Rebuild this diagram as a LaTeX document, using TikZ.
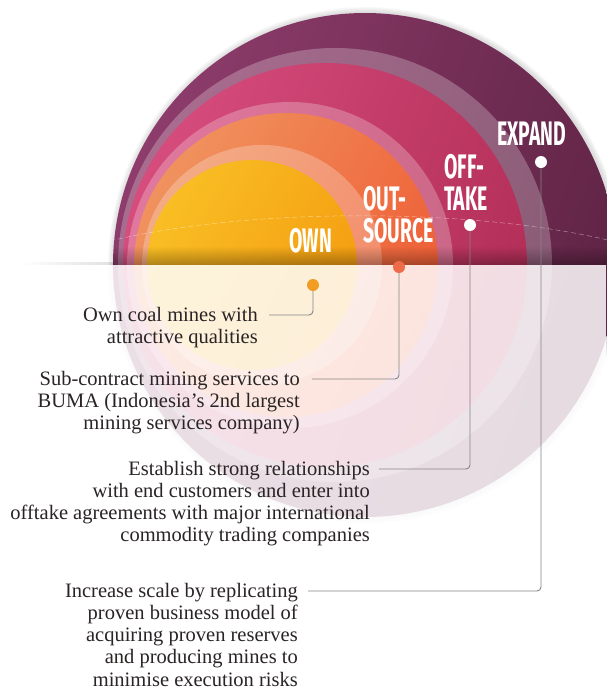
\documentclass[tikz,border=0pt]{standalone}
\usepackage{fontspec}
\setmainfont{Liberation Serif}
\newfontfamily\stagefont[FakeStretch=0.57]{Fira Sans}
\usetikzlibrary{fadings}

\definecolor{plumL}{HTML}{8D3C6B}
\definecolor{plumR}{HTML}{5E2344}
\definecolor{roseL}{HTML}{D64C7D}
\definecolor{roseR}{HTML}{B22E57}
\definecolor{coralL}{HTML}{F0925E}
\definecolor{coralR}{HTML}{EE5C34}
\definecolor{sunL}{HTML}{F9BE24}
\definecolor{sunR}{HTML}{F49C10}
\definecolor{owndot}{HTML}{F39C22}
\definecolor{sourcedot}{HTML}{EF6C48}
\definecolor{linegray}{HTML}{858585}
\definecolor{textgray}{HTML}{2A2425}

\tikzset{
  stage/.style={text=white, font=\stagefont\bfseries\fontsize{34}{32}\selectfont,
    inner sep=0pt, anchor=base west},
  blurb/.style={text=textgray, font=\fontsize{20.5}{22.2}\selectfont,
    inner sep=0pt, align=right, anchor=north east},
  stagedot/.style={circle, inner sep=0pt, minimum size=12pt, fill=#1},
  link/.style={draw=linegray, line width=0.9pt, rounded corners=4pt},
  halo/.style={fill=white, fill opacity=0.25},
}

\begin{document}
\begin{tikzpicture}[x=1pt,y=-1pt]
\useasboundingbox (0,0) rectangle (606,689);

% soft shadow round the big disc
\foreach \r in {253,...,258}
  \fill[black, opacity=0.025] (366,265) circle[radius=\r pt];

% the nested discs, each with a pale rim
\shade[left color=plumL, right color=plumR, shading angle=70] (365,265) circle[radius=252pt];
\fill[halo] (335,265) circle[radius=217pt];
\shade[left color=roseL, right color=roseR, shading angle=70] (325,265) circle[radius=202pt];
\fill[halo] (290,265) circle[radius=163pt];
\shade[left color=coralL, right color=coralR, shading angle=60] (286,265) circle[radius=152pt];
\fill[halo] (262,265) circle[radius=120pt];
\shade[left color=sunL, right color=sunR, shading angle=60] (252,265) circle[radius=105pt];

\begin{scope}
\clip (365,265) circle[radius=252pt];
\fill[black, opacity=0.3, path fading=north] (100,246) rectangle (620,265);
\draw[white, opacity=0.45, line width=0.5pt, dash pattern=on 5pt off 3pt]
  (110,241) .. controls (250,207) and (480,207) .. (620,243);
\end{scope}

% lower half washed out
\fill[white, opacity=0.84] (0,265) rectangle (606,689);
\fill[black, opacity=0.12, path fading=west] (20,262) rectangle (114,265);

% stage names, one line per node
\node[stage] (ownlabel) at (289,252) {OWN};
\node[stage] (outlabel) at (363,210) {OUT-};
\node[stage] (sourcelabel) at (363,242) {SOURCE};
\node[stage] (offlabel) at (444,178) {OFF-};
\node[stage] (takelabel) at (444,210) {TAKE};
\node[stage] (expandlabel) at (497,145) {EXPAND};

\node[blurb] (owntext) at (258,306) {\rule{0pt}{15pt}Own coal mines with\\attractive qualities};
\node[blurb] (sourcetext) at (300,370) {\rule{0pt}{15pt}Sub-contract mining services to\\BUMA (Indonesia’s 2nd largest\\mining services company)};
\node[blurb] (taketext) at (370,460) {\rule{0pt}{15pt}Establish strong relationships\\with end customers and enter into\\offtake agreements with major international\\commodity trading companies};
\node[blurb] (expandtext) at (298,582) {\rule{0pt}{15pt}Increase scale by replicating\\proven business model of\\acquiring proven reserves\\and producing mines to\\minimise execution risks};

\node[stagedot=owndot] (own) at (313,285) {};
\node[stagedot=sourcedot] (source) at (399,267) {};
\node[stagedot=white] (take) at (470,225) {};
\node[stagedot=white] (expand) at (541,162) {};

\draw[link] ([xshift=11pt,yshift=-9pt]owntext.north east) -| (own);
\draw[link] ([xshift=12pt,yshift=-9pt]sourcetext.north east) -| (source);
\draw[link] ([xshift=9pt,yshift=-9pt]taketext.north east) -| (take);
\draw[link] ([xshift=10pt,yshift=-9pt]expandtext.north east) -| (expand);
\end{tikzpicture}
\end{document}
